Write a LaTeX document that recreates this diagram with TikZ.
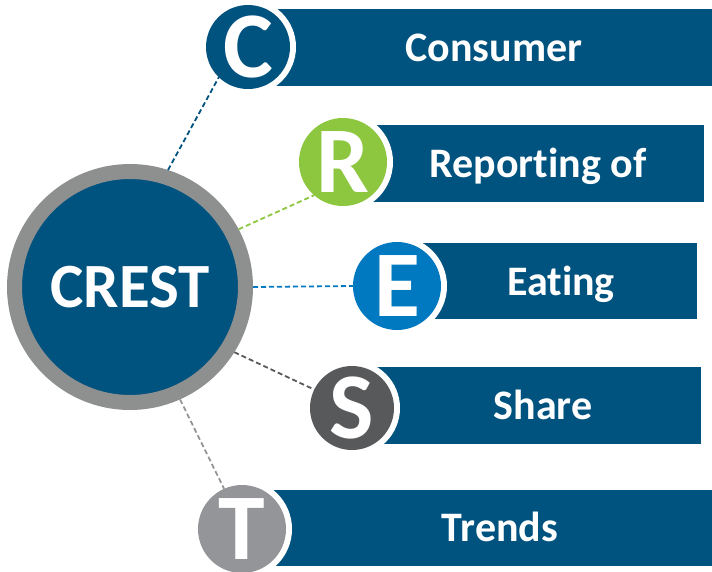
\documentclass[tikz,border=0pt]{standalone}
\usepackage{fontspec}
\setmainfont{Carlito}[Ligatures=NoCommon]
\definecolor{navy}{HTML}{00527F}
\definecolor{rgreen}{HTML}{8DC63F}
\definecolor{eblue}{HTML}{0079C1}
\definecolor{sgray}{HTML}{58595B}
\definecolor{tgray}{HTML}{939598}
\definecolor{ringgray}{HTML}{8E908F}
\begin{document}
\begin{tikzpicture}[x=1pt,y=-1pt,
  barfill/.style={fill=navy},
  gapdisk/.style={circle, fill=white, inner sep=0pt, minimum size=#1},
  letter/.style={circle, inner sep=0pt, outer sep=0pt, text=white, fill=#1,
    font=\bfseries\fontsize{94}{94}\selectfont},
  barlabel/.style={inner sep=0pt, text=white, text height=27pt, text depth=0pt,
    font=\bfseries\fontsize{42}{42}\selectfont},
  conn/.style={draw=#1, line width=1.8pt, dash pattern=on 5pt off 3pt}]
\useasboundingbox (0,0) rectangle (712,571);
% bars
\fill[barfill] (248,9) rectangle (712,86);
\fill[barfill] (343,125) rectangle (704,202);
\fill[barfill] (397,243) rectangle (697,319);
\fill[barfill] (352,367) rectangle (701,444);
\fill[barfill] (242,490) rectangle (712,566);
% white gaps
\node[gapdisk=96pt] (gc) at (248,47) {};
\node[gapdisk=100pt] (gr) at (343,162) {};
\node[gapdisk=100pt] (ge) at (397,286) {};
\node[gapdisk=96pt] (gs) at (352,408) {};
\node[gapdisk=100pt] (gt) at (242,529) {};
% centre
\node[circle, fill=navy, draw=ringgray, line width=15pt, outer sep=7.5pt,
  inner sep=0pt, minimum size=231pt, text=white,
  font=\bfseries\fontsize{63}{63}\selectfont] (crest) at (130,287) {CREST};
% letter circles
\path (248,47) node[letter=navy, minimum size=84pt] (c) {C}
      (343,162) node[letter=rgreen, minimum size=88pt] (r) {R}
      (397,286) node[letter=eblue, minimum size=88pt] (e) {E}
      (352,408) node[letter=sgray, minimum size=84pt] (s) {S}
      (242,529) node[letter=tgray, minimum size=88pt] (t) {T};
% connectors
\draw[conn=navy] (crest.72.7) -- (c.226.8);
\draw[conn=rgreen] (crest.28.6) -- (r.229.4);
\draw[conn=eblue] (crest.0) -- (e.180);
\draw[conn=sgray] (crest.-32.2) -- (s.154.6);
\draw[conn=tgray] (crest.-66.5) -- (t.114.3);
% labels
\node[barlabel] (lc) at (494,48) {Consumer};
\node[barlabel] (lr) at (538,164) {Reporting of};
\node[barlabel] (le) at (561,282) {Eating};
\node[barlabel] (ls) at (543,406) {Share};
\node[barlabel] (lt) at (500,528) {Trends};
\end{tikzpicture}
\end{document}
